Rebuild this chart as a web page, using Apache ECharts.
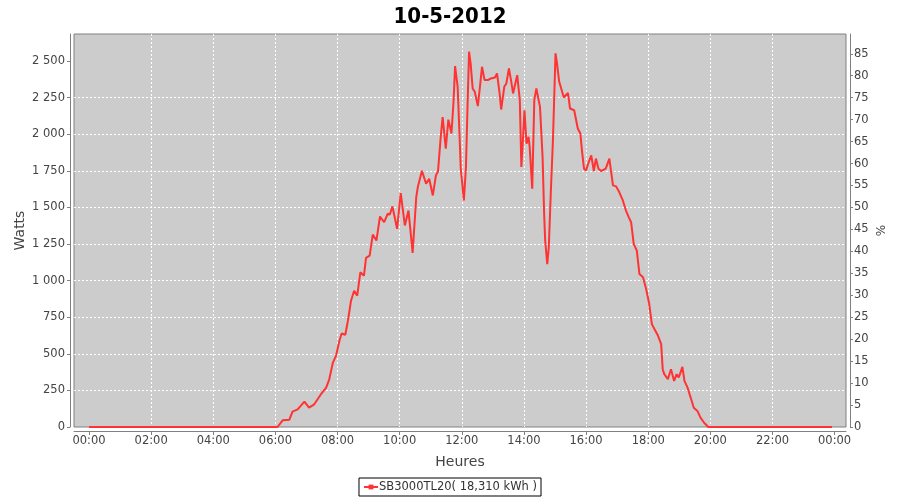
<!DOCTYPE html>
<html>
<head>
<meta charset="utf-8">
<script src="https://cdn.jsdelivr.net/npm/echarts@6/dist/echarts.min.js"></script>
<style>
html,body{margin:0;padding:0;background:#fff;}
#c{width:900px;height:500px;}
</style>
</head>
<body>
<div id="c"></div>
<script>
// Time of day in minutes since 00:00
var minutes = [0, 360, 364, 374, 387, 393, 403, 416, 425, 435, 448, 458, 464, 471, 477, 484, 488, 495, 500, 506, 512, 518, 524, 531, 535, 542, 548, 555, 562, 570, 577, 581, 586, 595, 602, 610, 617, 625, 632, 635, 643, 651, 657, 664, 670, 674, 679, 683, 689, 694, 700, 704, 707, 712, 715, 718, 724, 728, 731, 734, 737, 741, 745, 751, 755, 759, 764, 770, 776, 784, 788, 793, 796, 802, 806, 811, 815, 819, 827, 832, 835, 838, 841, 845, 849, 851, 856, 860, 864, 871, 876, 879, 881, 885, 888, 892, 896, 901, 904, 908, 917, 925, 929, 937, 944, 949, 952, 956, 960, 964, 970, 975, 979, 984, 989, 998, 1005, 1008, 1012, 1018, 1024, 1031, 1037, 1043, 1047, 1052, 1058, 1063, 1070, 1076, 1082, 1087, 1092, 1099, 1105, 1108, 1111, 1114, 1118, 1124, 1130, 1135, 1139, 1146, 1150, 1156, 1162, 1168, 1175, 1181, 1188, 1196, 1435];
// Power in watts
var watts = [0, 0, 0, 46, 50, 105, 120, 173, 132, 155, 224, 269, 326, 440, 486, 594, 639, 630, 726, 863, 931, 897, 1057, 1034, 1155, 1171, 1315, 1274, 1438, 1399, 1457, 1452, 1507, 1354, 1598, 1377, 1479, 1190, 1570, 1639, 1750, 1662, 1696, 1582, 1719, 1745, 1970, 2118, 1902, 2100, 2005, 2221, 2466, 2324, 2050, 1765, 1548, 1776, 2187, 2564, 2484, 2313, 2290, 2192, 2324, 2461, 2370, 2370, 2381, 2388, 2416, 2279, 2169, 2324, 2347, 2450, 2370, 2279, 2404, 2233, 1776, 1959, 2164, 1936, 1982, 1913, 1628, 2233, 2313, 2187, 1844, 1457, 1274, 1113, 1228, 1616, 1959, 2553, 2480, 2360, 2251, 2283, 2176, 2164, 2039, 2005, 1890, 1765, 1753, 1799, 1856, 1749, 1834, 1765, 1749, 1765, 1834, 1753, 1651, 1644, 1605, 1548, 1479, 1429, 1399, 1251, 1205, 1046, 1023, 943, 840, 703, 669, 623, 566, 395, 361, 372, 327, 395, 315, 361, 338, 411, 315, 269, 201, 132, 110, 64, 29, 0, 0];
var xTicks = [0, 120, 240, 360, 480, 600, 720, 840, 960, 1080, 1200, 1320, 1440];
var wattTicks = [0, 250, 500, 750, 1000, 1250, 1500, 1750, 2000, 2250, 2500];
var pctTicks = [0, 5, 10, 15, 20, 25, 30, 35, 40, 45, 50, 55, 60, 65, 70, 75, 80, 85];
var titleText = '10-5-2012';
var seriesName = 'SB3000TL20( 18,310 kWh )';

var seriesData = minutes.map(function (m, i) { return [m, watts[i]]; });
function pad(n) { return (n < 10 ? '0' : '') + n; }
function fmtTime(v) { var h = Math.floor(v / 60) % 24; return pad(h) + ':' + pad(v % 60); }
function fmtThousands(v) { return String(v).replace(/\B(?=(\d{3})+(?!\d))/g, ' '); }

var FONT = 'DejaVu Sans';
var axisLineStyle = { color: '#808080', width: 1 };
var gridLine = { show: true, showMinLine: false, showMaxLine: false, lineStyle: { color: '#ffffff', type: [2, 2], width: 1 } };

var chart = echarts.init(document.getElementById('c'), null, { renderer: 'canvas' });
chart.setOption({
  animation: false,
  backgroundColor: '#ffffff',
  title: {
    text: titleText, left: 'center', top: 1,
    textStyle: { fontFamily: 'DejaVu Sans Condensed, DejaVu Sans', fontWeight: 'bold', fontSize: 22, color: '#000' }
  },
  legend: {
    data: [seriesName], left: 'center', top: 478,
    borderColor: '#000', borderWidth: 1, padding: [3, 4],
    itemWidth: 14, itemHeight: 6, itemGap: 2,
    textStyle: { color: '#333', fontFamily: FONT, fontSize: 11.5, padding: [0, 0, 0, -4] }
  },
  grid: {
    left: 74, right: 54, top: 34, bottom: 73,
    show: true, backgroundColor: '#cccccc', borderColor: '#808080', borderWidth: 1
  },
  xAxis: {
    type: 'value', min: -29, max: 1462, offset: 4,
    name: 'Heures', nameLocation: 'middle', nameGap: 24, nameMoveOverlap: false,
    nameTextStyle: { color: '#444', fontFamily: FONT, fontSize: 14 },
    axisLine: { show: true, onZero: false, lineStyle: axisLineStyle },
    axisTick: { show: true, length: 4, lineStyle: axisLineStyle, customValues: xTicks },
    axisLabel: { customValues: xTicks, formatter: fmtTime, margin: 4, color: '#444', fontFamily: FONT, fontSize: 11.5 },
    splitLine: gridLine
  },
  yAxis: [{
    type: 'value', min: 0, max: 2685, position: 'left', offset: 4,
    name: 'Watts', nameLocation: 'middle', nameGap: 43, nameMoveOverlap: false,
    nameTextStyle: { color: '#444', fontFamily: FONT, fontSize: 14 },
    axisLine: { show: true, onZero: false, lineStyle: axisLineStyle },
    axisTick: { show: true, length: 3, lineStyle: axisLineStyle, customValues: wattTicks },
    axisLabel: { customValues: wattTicks, formatter: fmtThousands, margin: 5, color: '#444', fontFamily: FONT, fontSize: 11.5 },
    splitLine: gridLine
  }, {
    type: 'value', min: 0, max: 89.5, position: 'right', offset: 4,
    name: '%', nameLocation: 'middle', nameGap: 26, nameMoveOverlap: false,
    nameTextStyle: { color: '#444', fontFamily: FONT, fontSize: 12 },
    axisLine: { show: true, onZero: false, lineStyle: axisLineStyle },
    axisTick: { show: true, length: 3, lineStyle: axisLineStyle, customValues: pctTicks },
    axisLabel: { customValues: pctTicks, margin: 4, color: '#444', fontFamily: FONT, fontSize: 11.5 },
    splitLine: { show: false }
  }],
  series: [{
    name: seriesName, type: 'line', data: seriesData,
    showSymbol: false, symbol: 'rect', symbolSize: 4,
    lineStyle: { color: '#ff3333', width: 2 }, itemStyle: { color: '#ff3333' },
    z: 3
  }]
});
</script>
</body>
</html>
